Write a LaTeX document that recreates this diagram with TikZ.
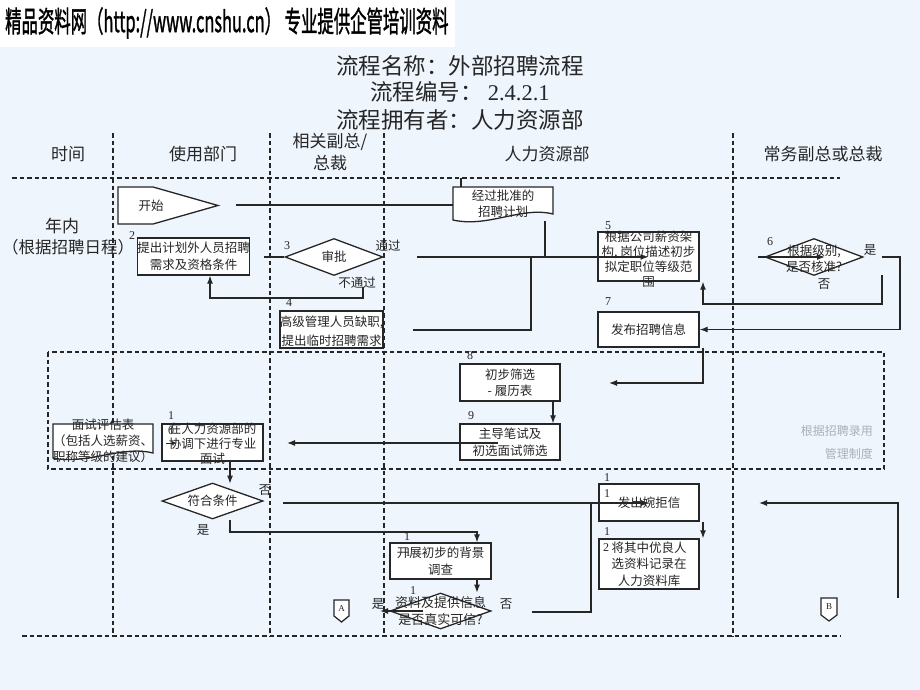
\documentclass[tikz,border=0pt]{standalone}
\usepackage{fontspec}
\setmainfont{Liberation Serif}
\newfontfamily\cjk{Noto Sans CJK SC}
\newfontfamily\cjkheavy[FakeBold=1.6]{Noto Sans CJK SC}
\usepackage{tikz}
\usetikzlibrary{arrows.meta,shapes.geometric}
\definecolor{bgblue}{HTML}{EEF5FD}
\definecolor{ink}{HTML}{262626}
\definecolor{note}{HTML}{A8B0B8}
\newcommand\txtfont{\cjk\fontsize{12.5}{16.5}\selectfont}

\begin{document}
\begin{tikzpicture}[x=1pt,y=-1pt,>={Latex[length=8pt,width=6pt]},
	lane/.style={draw=ink,line width=1.4pt,dash pattern=on 4.5pt off 3pt},
	box/.style={draw=ink,fill=white,line width=1.3pt,inner sep=0pt,minimum width=100pt,minimum height=37pt,align=center,font=\txtfont,text=ink},
	dec/.style={diamond,draw=ink,fill=white,line width=1.3pt,inner sep=0pt,minimum width=100pt,minimum height=37pt},
	txt/.style={inner sep=0pt,align=center,font=\txtfont,text=ink},
	num/.style={inner sep=0pt,font=\fontsize{12}{12}\selectfont,text=ink},
	head/.style={inner sep=0pt,align=center,font=\cjk\fontsize{17}{22}\selectfont,text=ink},
	ttl/.style={inner sep=0pt,font=\cjk\fontsize{22.5}{27}\selectfont,text=ink},
	flow/.style={->,draw=ink,line width=1.2pt},
	wire/.style={draw=ink,line width=1.2pt}]

	\useasboundingbox (0,0) rectangle (920,690);
	\fill[bgblue] (0,0) rectangle (920,690);
	\fill[white] (0,0) rectangle (455,47);
	\node[anchor=west,inner sep=0pt] (banner) at (5,23)
		{\scalebox{0.565}[1]{\cjkheavy\fontsize{29}{29}\selectfont 精品资料网（http://www.cnshu.cn） 专业提供企管培训资料}};

	\node[ttl] (name)  at (460,66)  {流程名称：外部招聘流程};
	\node[ttl] (code)  at (460,92)  {流程编号：\ {\rmfamily 2.4.2.1}};
	\node[ttl] (owner) at (460,120) {流程拥有者：人力资源部};

	\node[head] (time) at (68,154)  {时间};
	\node[head] (dept) at (203,154) {使用部门};
	\node[head] (vp)   at (330,152) {相关副总/\\总裁};
	\node[head] (hr)   at (547,154) {人力资源部};
	\node[head] (ceo)  at (823,154) {常务副总或总裁};

	% lanes
	\draw[lane] (12,178) -- (840,178);
	\draw[lane] (22,636) -- (840,636);
	\foreach \x in {113,270,384,733}
		\draw[lane] (\x,133) -- (\x,636);
	\draw[lane] (48,352) rectangle (884,469);

	\node[head] (year)  at (62,226) {年内};
	\node[head,font=\cjk\fontsize{16.5}{20}\selectfont] (sched) at (68,247) {（根据招聘日程）};

	% start and approved plan
	\draw[wire,line width=1.3pt,fill=white] (118,187) -- (153,187) -- (218,205.5) -- (153,224) -- (118,224) -- cycle;
	\node[txt] (start) at (151,206) {开始};
	\draw[wire,line width=1.3pt,fill=white] (453,187) -- (553,187) -- (553,214) .. controls (522,206) and (488,228) .. (453,220) -- cycle;
	\node[txt,minimum width=100pt,minimum height=33pt] (plan) at (503,203.5) {经过批准的\\招聘计划};

	% form
	\draw[wire,line width=1.3pt,fill=white] (53,424) -- (153,424) -- (153,453) .. controls (122,445) and (88,465) .. (53,458) -- cycle;
	\node[txt,font=\cjk\fontsize{12.5}{16}\selectfont] (form) at (103,441) {面试评估表\\（包括人选薪资、\\职称等级的建议）};

	\node[box,minimum width=99pt] (req) at (193.5,256.5) {提出计划外人员招聘\\需求及资格条件};
	\node[dec,minimum width=98pt,label={[txt]center:审批}] (appr) at (334,257) {};
	\node[box,minimum width=103pt,label={[txt,yshift=-2pt,font=\cjk\fontsize{12.5}{19}\selectfont]center:{高级管理人员缺职,\\提出临时招聘需求}}] (vac) at (331.5,329.5) {};
	\node[box,minimum width=101pt,minimum height=49pt,label={[txt,yshift=-3pt,font=\cjk\fontsize{12.5}{15}\selectfont]center:{根据公司薪资架\\构, 岗位描述初步\\拟定职位等级范\\围}}] (grade) at (648.5,256.5) {};
	\node[dec,minimum width=98pt,label={[txt,yshift=-1.5pt]center:{根据级别,\\是否核准?}}] (chk) at (814,257) {};
	\node[box,minimum width=101pt,minimum height=35pt] (pub) at (648.5,329.5) {发布招聘信息};
	\node[box] (scr) at (510,382.5) {初步筛选\\- 履历表};
	\node[box,minimum height=36pt] (test) at (510,442) {主导笔试及\\初选面试筛选};
	\node[box,minimum width=101pt,label={[txt,yshift=-1.5pt,font=\cjk\fontsize{12.5}{15}\selectfont]center:{在人力资源部的\\协调下进行专业\\面试}}] (intv) at (212.5,442.5) {};
	\node[dec,minimum width=101pt,minimum height=36pt,label={[txt]center:符合条件}] (fit) at (212.5,501) {};
	\node[box,minimum width=101pt,minimum height=36pt] (bg) at (440.5,561) {开展初步的背景\\调查};
	\node[dec,minimum width=101pt,minimum height=36pt,label={[txt,yshift=-0.5pt,font=\cjk\fontsize{13}{17}\selectfont]center:{资料及提供信息\\是否真实可信?}}] (real) at (440.5,611) {};
	\node[box] (rej) at (649,502.5) {发出婉拒信};
	\node[box,minimum height=50pt] (db) at (649,564) {将其中优良人\\选资料记录在\\人力资料库};

	% off-page connectors
	\draw[wire,fill=white] (334,600) -- (349,600) -- (349,616) -- (341.5,622) -- (334,616) -- cycle;
	\node[num,font=\fontsize{9}{9}\selectfont] (pga) at (341.5,609) {A};
	\draw[wire,fill=white] (821,598) -- (837,598) -- (837,615) -- (829,621) -- (821,615) -- cycle;
	\node[num,font=\fontsize{9}{9}\selectfont] (pgb) at (829,607) {B};

	\node[num] at (132,236) {2};
	\node[num] at (287,246) {3};
	\node[num] at (289,303) {4};
	\node[num] at (608,226) {5};
	\node[num] at (770,242) {6};
	\node[num] at (608,302) {7};
	\node[num] at (470,356) {8};
	\node[num] at (471,416) {9};
	\node[num] at (171,416) {1};
	\node[num] at (171,431) {0};
	\node[num] at (407,537) {1};
	\node[num] at (408,553) {1};
	\node[num] at (413,591) {1};
	\node[num] at (607,478) {1};
	\node[num] at (607,494) {1};
	\node[num] at (607,532) {1};
	\node[num] at (606,548) {2};

	\node[txt] at (388,246) {通过};
	\node[txt] at (357,283) {不通过};
	\node[txt] at (870,250) {是};
	\node[txt] at (824,284) {否};
	\node[txt] at (265,490) {否};
	\node[txt] at (203,530) {是};
	\node[txt] at (378,604) {是};
	\node[txt] at (506,604) {否};

	\node[txt,anchor=east,text=note,font=\cjk\fontsize{12}{12}\selectfont] (rule) at (873,431) {根据招聘录用};
	\node[txt,anchor=east,text=note,font=\cjk\fontsize{12}{12}\selectfont] (rule2) at (873,454) {管理制度};

	% connectors
	\coordinate (s0) at (236,205);
	\coordinate (a0) at (264,257);
	\coordinate (ok) at (417,257);
	\coordinate (j1) at (545,257);
	\coordinate (j2) at (531,257);
	\coordinate (vo) at (413,330);
	\coordinate (no) at (363,287);
	\coordinate (c6) at (758,257);
	\coordinate (y6) at (882,257);
	\coordinate (n6) at (882,275);
	\coordinate (p8) at (609,383);
	\coordinate (t0) at (498,443);
	\coordinate (t1) at (287,443);
	\coordinate (f0) at (283,503);
	\coordinate (r0) at (423,611);
	\coordinate (r1) at (380,611);
	\coordinate (r2) at (532,612);
	\coordinate (b0) at (898,598);
	\coordinate (b1) at (759,503);

	\draw[wire] (s0) -- (s0 -| plan.west);
	\draw[wire] ([xshift=-42pt]plan.north) -- ++(0,-9);
	\draw[wire] (a0) -- (appr.west);
	\draw[wire] (ok) -- (j1);
	\draw[wire] (vo) -| (j2);
	\draw[wire] (545,221) -- (j1);
	\draw[flow,line width=2.2pt] (j1) -- (grade.center |- j1);
	\draw[flow] (no) -- (363,298) -| ([xshift=16.5pt]req.south);
	\draw[flow] (c6) -- ([xshift=11pt]chk.center);
	\draw[flow] (y6) -- (900,257) |- (pub.east);
	\draw[flow] (n6) -- (882,304) -| ([xshift=54.5pt]grade.south);
	\draw[flow] ([xshift=54.5pt]pub.south) |- (p8);
	\draw[flow] ([xshift=43pt]scr.south) -- ([xshift=43pt]test.north);
	\draw[flow] (t0) -- (t1);
	\draw[draw=ink,line width=1pt,-{Latex[length=5pt,width=4pt]}] (166,443) -- (177,443);
	\draw[flow] ([xshift=17.5pt]intv.south) -- ++(0,22);
	\draw[flow] (f0) -- (f0 -| rej.center);
	\draw[flow] (230,520) -- (230,532) -| ([xshift=36.5pt]bg.north);
	\draw[flow] ([xshift=36.5pt]bg.south) -- ++(0,13);
	\draw[flow] (r0) -- (r1);
	\draw[wire] (r2) -- (591,612) -- (591,503);
	\draw[flow] ([xshift=54pt]rej.south) -- ([xshift=54pt]db.north);
	\draw[flow] (b0) |- (b1);

\end{tikzpicture}
\end{document}
